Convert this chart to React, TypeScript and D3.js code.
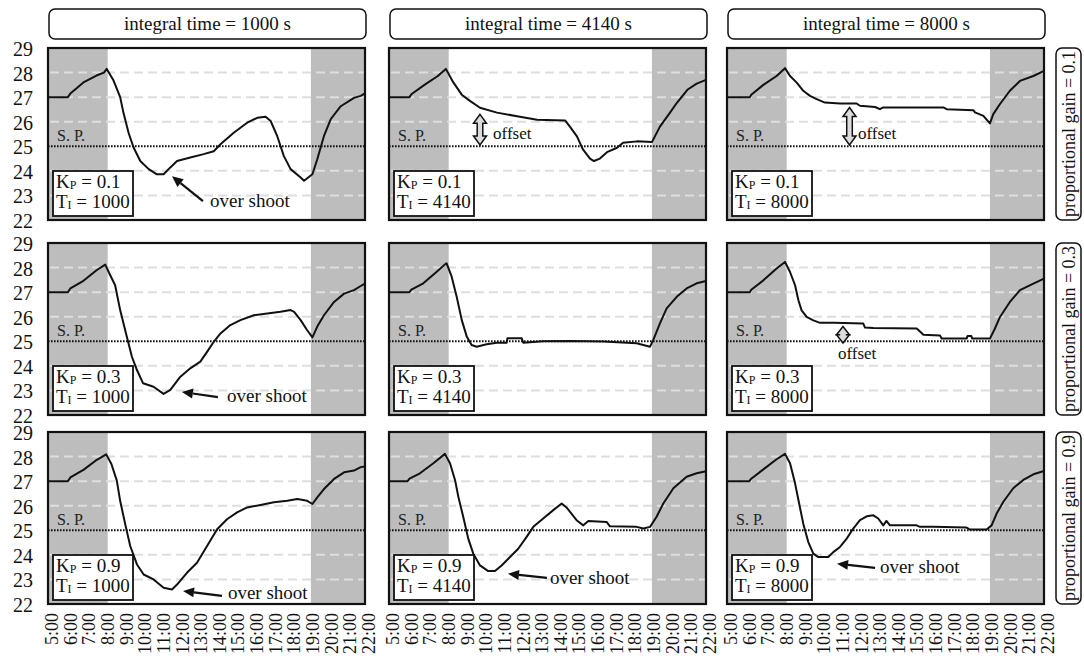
import React from "react";
import * as d3 from "d3";

// panel grid: rows = proportional gain, columns = integral time
const gains = ["0.1", "0.3", "0.9"];
const integralTimes = ["1000", "4140", "8000"];

const hours = [5, 6, 7, 8, 9, 10, 11, 12, 13, 14, 15, 16, 17, 18, 19, 20, 21, 22];
const hourLabels = ["5:00", "6:00", "7:00", "8:00", "9:00", "10:00", "11:00", "12:00", "13:00",
  "14:00", "15:00", "16:00", "17:00", "18:00", "19:00", "20:00", "21:00", "22:00"];
const tempTicks = [22, 23, 24, 25, 26, 27, 28, 29];
const gridTemps = [23, 24, 26, 27, 28];
const setPoint = 25;
const offHours = [[5, 8.2], [19.1, 22]];

// room temperature [hour, degC]
const kp01ti1000 = [[5, 27], [6.07, 27], [6.2, 27.15], [6.9, 27.6], [7.6, 27.88], [8.0, 28.0], [8.15, 28.15], [8.5, 27.7],
  [8.87, 27.0], [9.05, 26.35], [9.32, 25.55], [9.59, 24.95], [9.95, 24.4], [10.4, 24.07], [10.84, 23.86], [11.2, 23.86],
  [11.56, 24.14], [11.92, 24.4], [12.63, 24.54], [13.35, 24.68], [13.89, 24.8], [14.25, 25.08], [14.96, 25.55],
  [15.68, 25.96], [16.22, 26.16], [16.67, 26.2], [16.94, 26.03], [17.29, 25.42], [17.65, 24.6], [18.01, 24.07],
  [18.55, 23.73], [18.73, 23.6], [19.18, 23.86], [19.44, 24.47], [19.8, 25.42], [20.16, 26.1], [20.7, 26.63],
  [21.41, 26.97], [21.77, 27.05], [22, 27.15]];
const kp03ti1000 = [[5, 27], [6.07, 27], [6.2, 27.15], [6.9, 27.46], [7.62, 27.9], [8.07, 28.12], [8.3, 27.75], [8.6, 27.28],
  [8.87, 26.27], [9.14, 25.45], [9.32, 24.91], [9.5, 24.37], [9.77, 23.83], [10.1, 23.29], [10.66, 23.15], [11.2, 22.86],
  [11.56, 23.02], [12.1, 23.56], [12.63, 23.9], [13.17, 24.17], [13.53, 24.57], [13.89, 24.98], [14.25, 25.32],
  [14.78, 25.66], [15.32, 25.86], [16.04, 26.06], [16.76, 26.13], [17.47, 26.2], [18.01, 26.27], [18.2, 26.2],
  [18.55, 25.86], [18.9, 25.45], [19.18, 25.16], [19.44, 25.6], [19.8, 26.06], [20.34, 26.6], [20.88, 26.94],
  [21.41, 27.08], [21.77, 27.25], [22, 27.35]];
const kp09ti1000 = [[5, 27], [6.07, 27], [6.2, 27.15], [6.9, 27.46], [7.62, 27.87], [8.12, 28.09], [8.4, 27.7], [8.69, 27.02],
  [8.87, 26.2], [9.14, 25.25], [9.41, 24.36], [9.77, 23.61], [10.13, 23.2], [10.66, 23.0], [11.2, 22.66], [11.65, 22.59],
  [11.92, 22.79], [12.45, 23.27], [12.99, 23.68], [13.53, 24.36], [14.07, 25.04], [14.6, 25.45], [15.14, 25.73],
  [15.68, 25.93], [16.4, 26.03], [17.11, 26.14], [17.83, 26.2], [18.37, 26.27], [18.9, 26.2], [19.18, 26.07],
  [19.44, 26.34], [19.8, 26.68], [20.34, 27.09], [20.88, 27.36], [21.41, 27.43], [21.77, 27.57], [22, 27.6]];
const kp01ti4140 = [[5, 27], [6.1, 27], [6.2, 27.12], [6.9, 27.5], [7.6, 27.85], [8.05, 28.15], [8.45, 27.6], [8.9, 27.1],
  [9.34, 26.85], [9.88, 26.57], [10.79, 26.37], [12.02, 26.2], [12.94, 26.08], [14.44, 26.05], [14.7, 25.8],
  [15.08, 25.4], [15.4, 24.87], [15.78, 24.5], [15.99, 24.4], [16.31, 24.5], [16.69, 24.76], [17.23, 24.94],
  [17.55, 25.14], [18.3, 25.2], [19.1, 25.17], [19.53, 25.8], [20.07, 26.37], [20.44, 26.77], [21.0, 27.3],
  [21.5, 27.55], [22, 27.7]];
const kp03ti4140 = [[5, 27], [6.1, 27], [6.2, 27.1], [6.84, 27.36], [7.56, 27.83], [8.0, 28.13], [8.09, 28.17], [8.36, 27.63],
  [8.63, 26.81], [8.9, 25.87], [9.17, 25.19], [9.43, 24.85], [9.7, 24.78], [10.24, 24.88], [10.78, 24.94], [11.31, 24.94],
  [11.35, 25.12], [12.12, 25.12], [12.2, 24.94], [13.27, 25.0], [14.7, 25.01], [16.49, 24.99], [18.28, 24.92],
  [19.0, 24.78], [19.17, 25.05], [19.53, 25.73], [19.89, 26.34], [20.43, 26.81], [20.96, 27.15], [21.5, 27.36],
  [22, 27.45]];
const kp09ti4140 = [[5, 27], [6.0, 27], [6.1, 27.1], [6.66, 27.32], [7.38, 27.73], [8.0, 28.11], [8.27, 27.73], [8.54, 27.05],
  [8.72, 26.36], [8.98, 25.55], [9.25, 24.66], [9.52, 24.05], [9.88, 23.57], [10.32, 23.34], [10.68, 23.34],
  [11.04, 23.57], [11.49, 23.91], [11.93, 24.25], [12.38, 24.73], [12.74, 25.14], [13.27, 25.48], [13.81, 25.82],
  [14.26, 26.09], [14.52, 25.93], [15.06, 25.41], [15.42, 25.2], [15.69, 25.38], [16.67, 25.34], [16.85, 25.16],
  [18.28, 25.14], [18.64, 25.07], [19.0, 25.14], [19.35, 25.55], [19.71, 26.09], [20.25, 26.71], [20.96, 27.18],
  [21.5, 27.32], [22, 27.4]];
const kp01ti8000 = [[5, 27], [6.23, 27], [6.3, 27.1], [6.95, 27.5], [7.66, 27.86], [8.11, 28.18], [8.38, 27.86], [8.74, 27.59],
  [9.09, 27.26], [9.45, 27.05], [9.81, 26.92], [10.25, 26.78], [11.06, 26.74], [11.95, 26.74], [12.13, 26.65],
  [12.94, 26.6], [13.2, 26.51], [13.38, 26.58], [16.6, 26.58], [16.78, 26.51], [18.21, 26.47], [18.3, 26.38],
  [18.75, 26.24], [19.1, 25.93], [19.28, 26.31], [19.64, 26.72], [20.17, 27.26], [20.71, 27.66], [21.43, 27.86],
  [22, 28.07]];
const kp03ti8000 = [[5, 27], [6.23, 27], [6.3, 27.1], [6.95, 27.48], [7.66, 27.96], [8.11, 28.23], [8.38, 27.82], [8.65, 27.28],
  [8.83, 26.67], [9.0, 26.26], [9.27, 25.99], [9.63, 25.85], [9.99, 25.75], [10.7, 25.75], [12.31, 25.72], [12.4, 25.56],
  [12.85, 25.54], [15.17, 25.52], [15.35, 25.4], [15.53, 25.27], [16.42, 25.24], [16.51, 25.11], [17.85, 25.11],
  [17.9, 25.22], [18.1, 25.22], [18.15, 25.11], [19.1, 25.11], [19.37, 25.52], [19.64, 25.99], [20.17, 26.6],
  [20.71, 27.08], [21.43, 27.35], [22, 27.55]];
const kp09ti8000 = [[5, 27], [6.2, 27], [6.3, 27.1], [6.95, 27.48], [7.66, 27.89], [8.11, 28.11], [8.38, 27.73], [8.65, 26.91],
  [8.83, 26.23], [9.09, 25.27], [9.36, 24.52], [9.63, 24.05], [9.9, 23.91], [10.43, 23.91], [10.7, 24.11], [11.06, 24.32],
  [11.42, 24.66], [11.77, 25.07], [12.13, 25.41], [12.49, 25.57], [12.85, 25.61], [13.11, 25.48], [13.38, 25.2],
  [13.55, 25.38], [13.74, 25.2], [15.17, 25.2], [15.35, 25.14], [16.06, 25.14], [17.85, 25.11], [18.03, 25.03],
  [18.92, 25.03], [19.19, 25.2], [19.46, 25.68], [19.82, 26.16], [20.35, 26.71], [20.89, 27.05], [21.43, 27.28],
  [22, 27.41]];

const series = [
  [kp01ti1000, kp01ti4140, kp01ti8000],
  [kp03ti1000, kp03ti4140, kp03ti8000],
  [kp09ti1000, kp09ti4140, kp09ti8000],
];

// annotations, in data units of their panel
const overshootNotes = [
  { row: 0, col: 0, head: [11.65, 23.78], tail: [13.31, 22.77], label: [13.69, 22.52] },
  { row: 1, col: 0, head: [12.18, 22.94], tail: [14.11, 22.73], label: [14.6, 22.53] },
  { row: 2, col: 0, head: [12.24, 22.53], tail: [14.33, 22.33], label: [14.65, 22.2] },
  { row: 2, col: 1, head: [11.38, 23.23], tail: [13.47, 23.06], label: [13.63, 22.82] },
  { row: 2, col: 2, head: [10.9, 23.64], tail: [12.94, 23.47], label: [13.2, 23.27] },
];
const offsetNotes = [
  { row: 0, col: 1, at: 9.88, from: 26.3, to: 25.05, label: [10.58, 25.28] },
  { row: 0, col: 2, at: 11.57, from: 26.58, to: 25.05, label: [12.02, 25.28] },
  { row: 1, col: 2, at: 11.22, from: 25.6, to: 24.93, label: [10.95, 24.28] },
];

const W = 1084;
const H = 664;
const colLeft = [48, 389, 727];
const rowTop = [48, 243, 432];
const panelW = 317;
const panelH = 172;
const serif = { fontFamily: "Liberation Serif, DejaVu Serif, serif" };

const scalesFor = (row: number, col: number) => {
  const x = d3.scaleLinear().domain([5, 22]).range([colLeft[col], colLeft[col] + panelW]);
  const y = d3.scaleLinear().domain([22, 29]).range([rowTop[row] + panelH, rowTop[row]]);
  return { x, y };
};

function Panel({ row, col }: { row: number; col: number }) {
  const { x, y } = scalesFor(row, col);
  const left = colLeft[col];
  const top = rowTop[row];
  const line = d3.line<number[]>().x((d) => x(d[0])).y((d) => y(d[1]));
  const boxX = left + 5;
  const boxY = top + panelH - 49;
  return (
    <g>
      <rect x={left} y={top} width={panelW} height={panelH} fill="#fff" />
      {offHours.map((s, i) => (
        <rect key={i} x={x(s[0])} y={top} width={x(s[1]) - x(s[0])} height={panelH} fill="#bdbdbd" />
      ))}
      {gridTemps.map((t) => (
        <line key={t} x1={left + 2} x2={left + panelW} y1={y(t)} y2={y(t)}
          stroke="#dedede" strokeWidth={2} strokeDasharray="9,5" />
      ))}
      <line x1={left} x2={left + panelW} y1={y(setPoint)} y2={y(setPoint)}
        stroke="#111" strokeWidth={2} strokeDasharray="1.6,1.4" />
      <text x={left + 9} y={y(setPoint) - 5} fontSize={16} style={serif} fill="#222">S. P.</text>
      <path d={line(series[row][col]) || ""} fill="none" stroke="#111" strokeWidth={2} strokeLinejoin="round" />
      <rect x={boxX} y={boxY} width={80} height={45} fill="#fff" stroke="#111" strokeWidth={1.8} />
      <text x={boxX + 3} y={boxY + 17} fontSize={19} style={serif} fill="#111">
        K<tspan fontSize={12} dy={1}>P</tspan><tspan dy={-1}>{" = " + gains[row]}</tspan>
      </text>
      <text x={boxX + 3} y={boxY + 37} fontSize={19} style={serif} fill="#111">
        T<tspan fontSize={12} dy={1}>I</tspan><tspan dy={-1}>{" = " + integralTimes[col]}</tspan>
      </text>
      <rect x={left} y={top} width={panelW} height={panelH} fill="none" stroke="#111" strokeWidth={2.2} />
    </g>
  );
}

function Overshoot({ n }: { n: typeof overshootNotes[number] }) {
  const { x, y } = scalesFor(n.row, n.col);
  const hx = x(n.head[0]), hy = y(n.head[1]);
  const tx = x(n.tail[0]), ty = y(n.tail[1]);
  const a = Math.atan2(hy - ty, hx - tx);
  const len = 11, half = 5;
  const bx = hx - len * Math.cos(a), by = hy - len * Math.sin(a);
  const p1 = [bx + half * Math.sin(a), by - half * Math.cos(a)];
  const p2 = [bx - half * Math.sin(a), by + half * Math.cos(a)];
  return (
    <g>
      <line x1={tx} y1={ty} x2={bx} y2={by} stroke="#111" strokeWidth={2.2} />
      <polygon points={`${hx},${hy} ${p1[0]},${p1[1]} ${p2[0]},${p2[1]}`} fill="#111" />
      <text x={x(n.label[0])} y={y(n.label[1])} fontSize={19} style={serif} fill="#111">over shoot</text>
    </g>
  );
}

function Offset({ n }: { n: typeof offsetNotes[number] }) {
  const { x, y } = scalesFor(n.row, n.col);
  const cx = x(n.at);
  const y1 = y(n.from), y2 = y(n.to);
  const hw = 6.5, sw = 2.8;
  const hh = Math.min(9, (y2 - y1) / 2);
  const pts = [
    [cx, y1], [cx + hw, y1 + hh], [cx + sw, y1 + hh], [cx + sw, y2 - hh], [cx + hw, y2 - hh], [cx, y2],
    [cx - hw, y2 - hh], [cx - sw, y2 - hh], [cx - sw, y1 + hh], [cx - hw, y1 + hh],
  ];
  return (
    <g>
      <polygon points={pts.map((p) => p.join(",")).join(" ")} fill="#dcdcdc" stroke="#111" strokeWidth={1.5} />
      <text x={x(n.label[0])} y={y(n.label[1])} fontSize={17} style={serif} fill="#111">offset</text>
    </g>
  );
}

export default function App() {
  const rows = [0, 1, 2];
  const cols = [0, 1, 2];
  return (
    <svg width={W} height={H} style={{ position: "absolute", left: 0, top: 0, background: "#fff" }}>
      {cols.map((c) => (
        <g key={"top" + c}>
          <rect x={colLeft[c] + 1} y={9} width={panelW} height={30} rx={6} fill="#fff" stroke="#111" strokeWidth={1.5} />
          <text x={colLeft[c] + 1 + panelW / 2} y={30} textAnchor="middle" fontSize={19} style={serif} fill="#111">
            {"integral time = " + integralTimes[c] + " s"}
          </text>
        </g>
      ))}
      {rows.map((r) => (
        <g key={"side" + r}>
          <rect x={1056} y={rowTop[r]} width={25} height={panelH} rx={6} fill="#fff" stroke="#111" strokeWidth={1.5} />
          <text transform={`translate(1068.5,${rowTop[r] + panelH / 2}) rotate(-90)`} textAnchor="middle"
            dominantBaseline="central" fontSize={18} style={serif} fill="#111">
            {"proportional gain = " + gains[r]}
          </text>
        </g>
      ))}
      {rows.map((r) => {
        const { y } = scalesFor(r, 0);
        return tempTicks.map((t) => (
          <text key={r + "-" + t} x={33} y={y(t) + 8} textAnchor="end" fontSize={20} style={serif} fill="#111">
            {t}
          </text>
        ));
      })}
      {rows.map((r) => cols.map((c) => <Panel key={r + "-" + c} row={r} col={c} />))}
      {overshootNotes.map((n, i) => <Overshoot key={"o" + i} n={n} />)}
      {offsetNotes.map((n, i) => <Offset key={"f" + i} n={n} />)}
      {cols.map((c) => {
        const { x } = scalesFor(2, c);
        return hours.map((h, i) => (
          <text key={c + "-" + h} transform={`translate(${x(h) + 4},613) rotate(-90)`} textAnchor="end"
            dominantBaseline="central" fontSize={18} style={serif} fill="#111">
            {hourLabels[i]}
          </text>
        ));
      })}
    </svg>
  );
}
